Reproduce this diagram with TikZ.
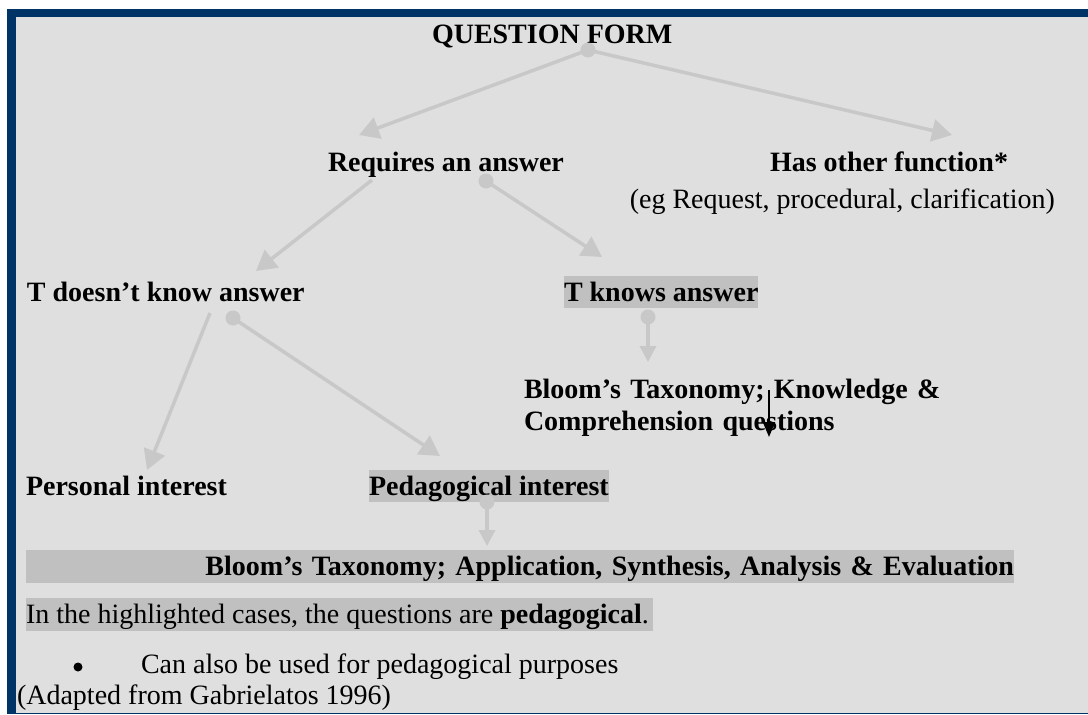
\documentclass[tikz,border=0pt]{standalone}
\usepackage{fontspec}
\setmainfont{Liberation Serif}
\usetikzlibrary{arrows.meta}
\definecolor{frameblue}{RGB}{0,51,102}
\definecolor{panelgray}{RGB}{223,223,223}
\definecolor{hlgray}{RGB}{192,192,192}
\definecolor{linkgray}{RGB}{200,200,200}

\begin{document}
\begin{tikzpicture}[x=1pt,y=-1pt,
  every node/.style={inner sep=0pt, outer sep=0pt},
  lbl/.style={font=\fontsize{28}{32}\selectfont\bfseries, anchor=base west},
  plain/.style={font=\fontsize{28}{32}\selectfont, anchor=base west},
  hl/.style={fill=hlgray, text height=25pt, text depth=7pt},
  dot/.style={circle, fill=linkgray, minimum size=15pt},
  link/.style={draw=linkgray, line width=3.5pt, -{Triangle[length=20pt,width=22pt]}},
  shortlink/.style={draw=linkgray, line width=3.5pt, -{Triangle[length=16pt,width=16pt]}},
  ink/.style={draw=black, line width=2pt, -{Triangle[length=15pt,width=12pt]}}
]
% page, frame and panel
\useasboundingbox (0,0) rectangle (1088,715);
\fill[white] (0,0) rectangle (1088,715);
\fill[frameblue] (7.3,9) rectangle (1088,714.3);
\fill[panelgray] (16,16.7) rectangle (1088,712.7);

% tree labels
\node[lbl] (qf) at (432,43) {QUESTION FORM};
\node[lbl] (req) at (328,171) {Requires an answer};
\node[lbl] (other) at (770,171) {Has other function*};
\node[plain, anchor=base east] (otherEg) at (1055,208) {(eg Request, procedural, clarification)};
\node[lbl] (dk) at (27,301) {T doesn’t know answer};
\node[lbl, hl] (knows) at (564,301) {T knows answer};
\node[lbl, text width=500pt, align=left] (kc) at (524,398)
  {Bloom’s Taxonomy; Knowledge \&\\Comprehension questions};
\node[lbl] (pers) at (26,495) {Personal interest};
\node[lbl, hl] (ped) at (369,495) {Pedagogical interest};
\node[lbl, hl, text depth=8pt, text width=988pt, align=right] (asae) at (26,575)
  {Bloom’s Taxonomy; Application, Synthesis, Analysis \& Evaluation\hspace*{2pt}};

% notes below the tree
\node[plain, hl, text depth=8pt] (note) at (26,623)
  {In the highlighted cases, the questions are \textbf{pedagogical}.\hspace*{4pt}};
\node[circle, fill=black, minimum size=9pt] (bullet) at (78,667) {};
\node[plain] (also) at (141,673) {Can also be used for pedagogical purposes};
\node[plain] (src) at (17,704) {(Adapted from Gabrielatos 1996)};

% connector ends
\coordinate (reqFoot) at (372,180);
\coordinate (dkFoot) at (210,313);
\coordinate (reqTip) at (359,135);
\coordinate (otherTip) at (952,135);
\coordinate (dkTip) at (256,271);
\coordinate (knowsTip) at (602,257);
\coordinate (kcTip) at (648,362);
\coordinate (persTip) at (147,470);
\coordinate (pedTip) at (440,456);
\coordinate (asTip) at (487,546);
\coordinate (inkTop) at (769,390);
\coordinate (inkTip) at (769,437);

% starting dots
\node[dot] (qfDot) at (588,50) {};
\node[dot] (reqDot) at (486,181) {};
\node[dot] (knowsDot) at (648,317) {};
\node[dot] (dkDot) at (233,318) {};
\node[dot] (pedDot) at (487,502) {};

% connectors
\draw[link] (qfDot.center) -- (reqTip);
\draw[link] (qfDot.center) -- (otherTip);
\draw[link] (reqFoot) -- (dkTip);
\draw[link] (reqDot.center) -- (knowsTip);
\draw[shortlink] (knowsDot.center) -- (kcTip);
\draw[link] (dkFoot) -- (persTip);
\draw[link] (dkDot.center) -- (pedTip);
\draw[shortlink] (pedDot.center) -- (asTip);
\draw[ink] (inkTop) -- (inkTip);
\end{tikzpicture}
\end{document}
